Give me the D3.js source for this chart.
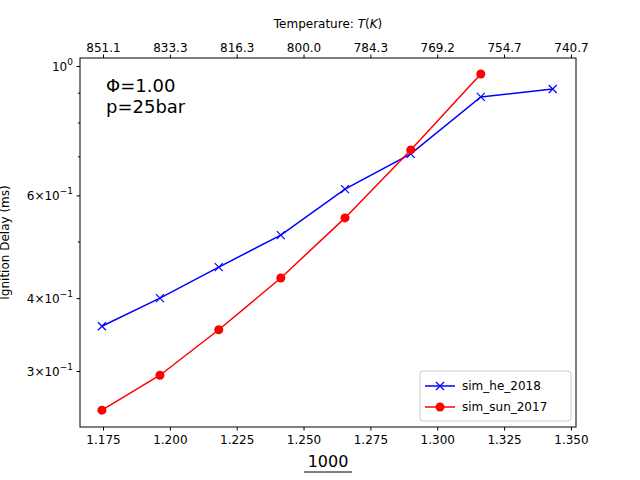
<!DOCTYPE html>
<html><head><meta charset="utf-8">
<script src="https://d3js.org/d3.v7.min.js"></script>
<style>body{margin:0;background:#fff}text{font-family:"DejaVu Sans",sans-serif}</style>
</head><body>
<svg id="chart" width="640" height="480"></svg>
<script>
// data
var heX = [1.1746, 1.1963, 1.2183, 1.2415, 1.2655, 1.2901, 1.3163, 1.3432];
var heY = [0.358, 0.400, 0.452, 0.513, 0.615, 0.707, 0.885, 0.913];
var sunX = [1.1746, 1.1963, 1.2183, 1.2415, 1.2655, 1.2901, 1.3163];
var sunY = [0.257, 0.295, 0.353, 0.433, 0.549, 0.718, 0.969];
var xTicks = [1.175, 1.200, 1.225, 1.250, 1.275, 1.300, 1.325, 1.350];
var yMajor = [0.3, 0.4, 0.6, 1.0];
var yMajorLabels = ["3", "4", "6", null];
var yMinor = [0.5, 0.7, 0.8, 0.9];

var margin = {top: 58, right: 64, bottom: 53, left: 80};
var width = 640 - margin.left - margin.right;
var height = 480 - margin.top - margin.bottom;
var svg = d3.select("#chart").append("g")
	.attr("transform", "translate(" + margin.left + "," + margin.top + ")");

var x = d3.scaleLinear().domain([1.1664, 1.3519]).range([0, width]);
var y = d3.scaleLog().domain([0.2405, 1.032]).range([height, 0]);

//eixos
var bx = svg.append("g").attr("transform", "translate(0," + height + ")")
	.call(d3.axisBottom(x).tickValues(xTicks).tickFormat(d3.format(".3f")).tickSizeOuter(0).tickSize(3.5));
var tx = svg.append("g")
	.call(d3.axisTop(x).tickValues(xTicks).tickFormat(function(d) { return (1000 / d).toFixed(1); }).tickSizeOuter(0).tickSize(3.5));
svg.append("g")
	.call(d3.axisLeft(y).tickValues(yMajor).tickFormat("").tickSizeOuter(0).tickSize(3.5));
svg.append("g")
	.call(d3.axisLeft(y).tickValues(yMinor).tickFormat("").tickSizeOuter(0).tickSize(2));
svg.selectAll(".domain").remove();
svg.selectAll(".tick text").attr("font-size", 12).attr("fill", "#000").attr("font-family", "DejaVu Sans");
svg.selectAll(".tick line").attr("stroke", "#000");
bx.selectAll(".tick text").attr("dy", "0.85em");

yMajor.forEach(function(v, i) {
	var t = svg.append("text").attr("x", -7).attr("y", y(v) + 5).attr("text-anchor", "end").attr("font-size", 12);
	if (yMajorLabels[i] === null) {
		t.text("10");
		t.append("tspan").attr("dy", -6).attr("font-size", 9).text("0");
	} else {
		t.text(yMajorLabels[i] + "\u00d710");
		t.append("tspan").attr("dy", -6).attr("font-size", 9).text("\u22121");
	}
});

svg.append("rect").attr("width", width).attr("height", height)
	.attr("fill", "none").attr("stroke", "#000").attr("stroke-width", 1);

//linhas
var line = d3.line().x(function(d) { return x(d[0]); }).y(function(d) { return y(d[1]); });
var he = d3.zip(heX, heY), sun = d3.zip(sunX, sunY);
svg.append("path").attr("d", line(he)).attr("fill", "none").attr("stroke", "blue").attr("stroke-width", 1.5);
svg.append("path").attr("d", line(sun)).attr("fill", "none").attr("stroke", "red").attr("stroke-width", 1.5);
svg.selectAll(".hex").data(he).enter().append("path")
	.attr("d", function(d) { var px = x(d[0]), py = y(d[1]); return "M" + (px - 4) + "," + (py - 4) + "L" + (px + 4) + "," + (py + 4) + "M" + (px - 4) + "," + (py + 4) + "L" + (px + 4) + "," + (py - 4); })
	.attr("stroke", "blue").attr("stroke-width", 1.2);
svg.selectAll(".sunc").data(sun).enter().append("circle")
	.attr("cx", function(d) { return x(d[0]); }).attr("cy", function(d) { return y(d[1]); })
	.attr("r", 4.5).attr("fill", "red");

//textos
svg.append("text").attr("x", 26).attr("y", 34).attr("font-size", 18).text("\u03a6=1.00");
svg.append("text").attr("x", 26).attr("y", 55).attr("font-size", 18).text("p=25bar");
svg.append("text").attr("x", width / 2).attr("y", -30).attr("text-anchor", "middle").attr("font-size", 12)
	.html('Temperature: <tspan font-style="italic">T</tspan>(<tspan font-style="italic">K</tspan>)');
svg.append("text").attr("x", -height / 2).attr("y", -71).attr("transform", "rotate(-90)")
	.attr("text-anchor", "middle").attr("font-size", 12).text("Ignition Delay (ms)");
svg.append("text").attr("x", 248).attr("y", height + 40).attr("text-anchor", "middle").attr("font-size", 16).text("1000");
svg.append("line").attr("x1", 224).attr("x2", 272).attr("y1", height + 45).attr("y2", height + 45).attr("stroke", "#000");
svg.append("text").attr("x", 248).attr("y", height + 53).attr("dy", "0.75em").attr("text-anchor", "middle").attr("font-size", 13)
	.html('<tspan font-style="italic">T</tspan>(<tspan font-style="italic">K</tspan>)');

//legenda
var lg = svg.append("g").attr("transform", "translate(" + (width - 156) + "," + (height - 56) + ")");
lg.append("rect").attr("width", 151).attr("height", 50).attr("rx", 3).attr("fill", "#fff").attr("stroke", "#ccc");
[["sim_he_2018", "blue", "x"], ["sim_sun_2017", "red", "o"]].forEach(function(s, i) {
	var yy = 15 + i * 21;
	lg.append("line").attr("x1", 5).attr("x2", 35).attr("y1", yy).attr("y2", yy).attr("stroke", s[1]).attr("stroke-width", 1.5);
	if (s[2] === "x") lg.append("path").attr("d", "M16," + (yy - 4) + "L24," + (yy + 4) + "M16," + (yy + 4) + "L24," + (yy - 4)).attr("stroke", s[1]).attr("stroke-width", 1.2);
	else lg.append("circle").attr("cx", 20).attr("cy", yy).attr("r", 4.5).attr("fill", s[1]);
	lg.append("text").attr("x", 42).attr("y", yy + 4).attr("font-size", 12).text(s[0]);
});
</script>
</body></html>
